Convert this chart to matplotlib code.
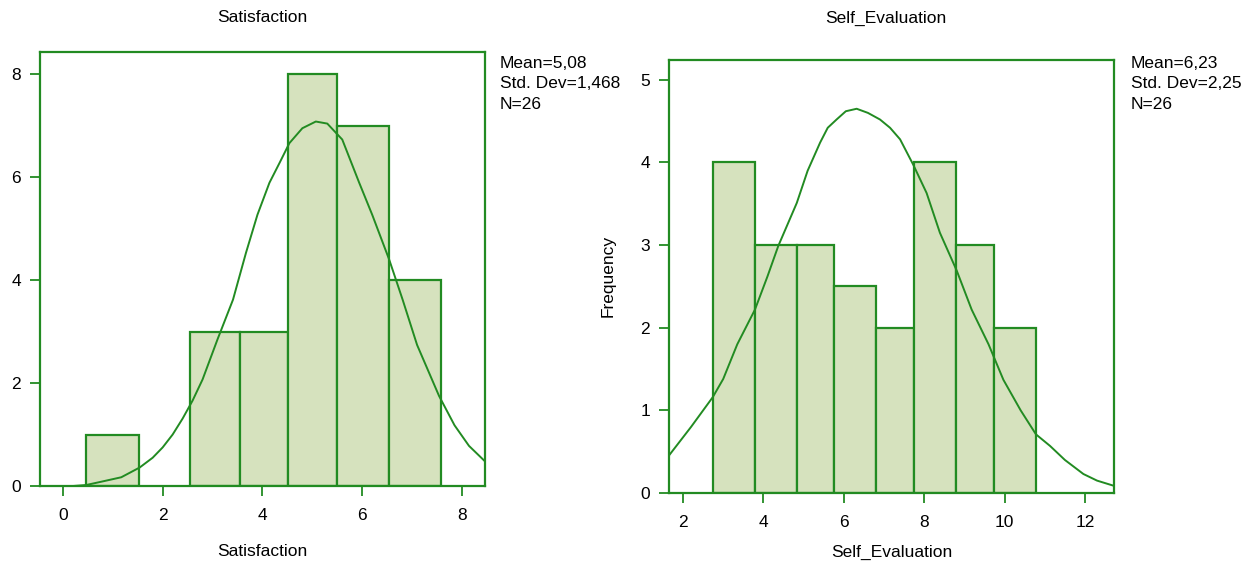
import matplotlib
matplotlib.use('Agg')
import matplotlib.pyplot as plt
import numpy as np

plt.rcParams['font.family'] = ['Liberation Sans', 'DejaVu Sans']

edge_col = '#228b22'
fill_col = '#d6e2be'

# Satisfaction histogram (bin edges)
sat_left = [0.46, 2.54, 3.55, 4.51, 5.49, 6.53]
sat_right = [1.53, 3.55, 4.51, 5.49, 6.53, 7.57]
sat_freq = [1, 3, 3, 8, 7, 4]
sat_curve_x = [-0.46, 0.2, 0.47, 0.8, 1.17, 1.54, 1.8, 2.0, 2.2, 2.4, 2.6,
               2.8, 3.1, 3.41, 3.67, 3.9, 4.14, 4.35, 4.54, 4.8, 5.07, 5.3,
               5.6, 5.94, 6.2, 6.54, 6.81, 7.1, 7.54, 7.85, 8.14, 8.46]
sat_curve_y = [0.0, 0.0, 0.02, 0.09, 0.17, 0.36, 0.55, 0.75, 1.0, 1.31, 1.66,
               2.07, 2.85, 3.62, 4.53, 5.27, 5.89, 6.29, 6.66, 6.95, 7.08, 7.04,
               6.73, 5.89, 5.27, 4.40, 3.62, 2.74, 1.75, 1.18, 0.78, 0.48]
sat_stats = 'Mean=5,08\nStd. Dev=1,468\nN=26'

# Self_Evaluation histogram
se_left = [2.74, 3.79, 4.83, 5.76, 6.81, 7.74, 8.79, 9.74]
se_right = [3.79, 4.83, 5.76, 6.81, 7.74, 8.79, 9.74, 10.78]
se_freq = [4, 3, 3, 2.5, 2, 4, 3, 2]
se_curve_x = [1.66, 2.2, 2.74, 3.0, 3.35, 3.79, 4.1, 4.37, 4.83, 5.1, 5.41,
              5.6, 5.82, 6.05, 6.32, 6.6, 6.9, 7.15, 7.4, 7.73, 8.06, 8.39,
              8.81, 9.18, 9.4, 9.6, 9.97, 10.4, 10.78, 11.13, 11.5, 11.96,
              12.3, 12.7]
se_curve_y = [0.46, 0.80, 1.16, 1.38, 1.8, 2.22, 2.62, 2.99, 3.51, 3.9, 4.24,
              4.42, 4.52, 4.62, 4.65, 4.6, 4.52, 4.42, 4.28, 3.97, 3.63, 3.15,
              2.69, 2.22, 2.0, 1.8, 1.37, 1.0, 0.71, 0.57, 0.4, 0.23,
              0.15, 0.09]
se_stats = 'Mean=6,23\nStd. Dev=2,25\nN=26'

fig = plt.figure(figsize=(12.56, 5.65), dpi=100)
ax1 = fig.add_axes([0.0318, 0.1398, 0.3543, 0.7681])
ax2 = fig.add_axes([0.5326, 0.1274, 0.3543, 0.7664])

fs = 12.5


def draw(ax, left, right, freq, cx, cy, xlim, ylim, xticks, yticks):
    left = np.array(left)
    width = np.array(right) - left
    ax.bar(left, freq, width=width, align='edge', color=fill_col,
           edgecolor=edge_col, linewidth=1.6, zorder=2)
    ax.plot(cx, cy, color=edge_col, linewidth=1.4, zorder=3)
    ax.set_xlim(*xlim)
    ax.set_ylim(*ylim)
    ax.set_xticks(xticks)
    ax.set_yticks(yticks)
    for s in ax.spines.values():
        s.set_color(edge_col)
        s.set_linewidth(1.6)
    ax.tick_params(axis='both', colors=edge_col, labelcolor='black',
                   length=7.5, width=1.3, labelsize=fs)
    ax.tick_params(axis='x', pad=8)
    ax.tick_params(axis='y', pad=6)


draw(ax1, sat_left, sat_right, sat_freq, sat_curve_x, sat_curve_y,
     (-0.46, 8.46), (0, 8.43), [0, 2, 4, 6, 8], [0, 2, 4, 6, 8])
draw(ax2, se_left, se_right, se_freq, se_curve_x, se_curve_y,
     (1.65, 12.72), (0, 5.24), [2, 4, 6, 8, 10, 12], [0, 1, 2, 3, 4, 5])

# titles, axis labels and stats boxes
fig.text(262 / 1256, 1 - 18 / 565, 'Satisfaction', ha='center', va='center', fontsize=fs)
fig.text(886 / 1256, 1 - 18 / 565, 'Self_Evaluation', ha='center', va='center', fontsize=fs)
fig.text(262 / 1256, 1 - 552 / 565, 'Satisfaction', ha='center', va='center', fontsize=fs)
fig.text(892 / 1256, 1 - 552 / 565, 'Self_Evaluation', ha='center', va='center', fontsize=fs)
fig.text(608 / 1256, 1 - 276 / 565, 'Frequency', ha='center', va='center',
         rotation=90, fontsize=fs)
fig.text(500 / 1256, 1 - 56 / 565, sat_stats, ha='left', va='top',
         fontsize=fs, linespacing=1.45)
fig.text(1131 / 1256, 1 - 56 / 565, se_stats, ha='left', va='top',
         fontsize=fs, linespacing=1.45)

fig.savefig('out.png', dpi=100)
